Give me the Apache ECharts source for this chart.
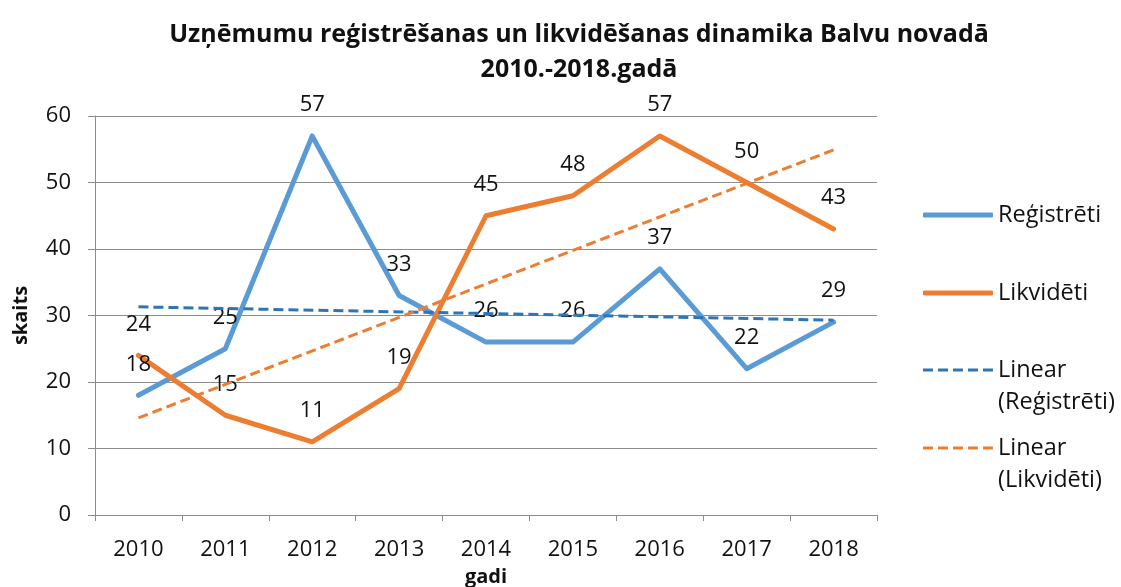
<!DOCTYPE html>
<html><head><meta charset="utf-8">
<script src="https://cdn.jsdelivr.net/npm/echarts@6/dist/echarts.min.js"></script>
<style>html,body{margin:0;padding:0;background:#fff}#c{width:1121px;height:587px}</style>
</head><body><div id="c"></div>
<script>
const years = ['2010','2011','2012','2013','2014','2015','2016','2017','2018'];
const registreti = [18, 25, 57, 33, 26, 26, 37, 22, 29];
const likvideti = [24, 15, 11, 19, 45, 48, 57, 50, 43];
// trend line end values (2010 and 2018)
const trendRegistreti = [31.3, 29.3];
const trendLikvideti = [14.6, 54.9];
const yTicks = [0, 10, 20, 30, 40, 50, 60];

const FONT = '"Open Sans", Lato, sans-serif';
const TXT = '#111';
function trendData(ends){ return years.map((y,i)=> i===0 ? ends[0] : (i===years.length-1 ? ends[1] : null)); }

const DASH_ICON = 'path://M0,0h10v3h-10z M15,0h10v3h-10z M30,0h10v3h-10z M45,0h10v3h-10z M60,0h10v3h-10z';

const chart = echarts.init(document.getElementById('c'));
const labelCfg = {show:true, position:'top', distance:20, fontSize:22, color:TXT, fontFamily:FONT};
function legend(name, top, twoLine, color){
  return {
    data:[{name:name, icon: twoLine ? DASH_ICON : 'roundRect'}],
    left:923, top:top, orient:'vertical',
    itemWidth: 70, itemHeight: twoLine ? 3 : 5, padding:0,
    symbolKeepAspect:false,
    itemStyle:{color:color},
    formatter: n => twoLine ? ' \n' + n.replace(' (', '\n(') : n,
    textStyle:{fontSize:23.5, color:TXT, fontFamily:FONT, lineHeight:32}
  };
}
chart.setOption({
  animation:false,
  title:{text:'Uzņēmumu reģistrēšanas un likvidēšanas dinamika Balvu novadā\n2010.-2018.gadā',
    left:574, top:12, textAlign:'center',
    textStyle:{fontSize:25, fontWeight:'bold', color:TXT, fontFamily:FONT, lineHeight:35}},
  legend:[
    legend('Reģistrēti', 199, false, '#5B9BD5'),
    legend('Likvidēti', 277, false, '#ED7D31'),
    legend('Linear (Reģistrēti)', 322, true, '#2E75B6'),
    legend('Linear (Likvidēti)', 400, true, '#ED7D31')
  ],
  grid:{left:95, right:244, top:116, bottom:72, containLabel:false, outerBoundsMode:'none'},
  xAxis:{type:'category', data:years, boundaryGap:true,
    name:'gadi', nameLocation:'middle', nameGap:52,
    nameTextStyle:{fontSize:20, fontWeight:'bold', color:TXT, fontFamily:FONT},
    axisLine:{lineStyle:{color:'#8c8c8c', width:1}},
    axisTick:{show:true, length:6, alignWithLabel:false, lineStyle:{color:'#8c8c8c'}},
    axisLabel:{fontSize:22, color:TXT, fontFamily:FONT, margin:24}},
  yAxis:{type:'value', min:yTicks[0], max:yTicks[yTicks.length-1], interval:10,
    name:'skaits', nameLocation:'middle', nameGap:64, nameRotate:90,
    nameTextStyle:{fontSize:20, fontWeight:'bold', color:TXT, fontFamily:FONT},
    axisLine:{show:true, lineStyle:{color:'#8c8c8c', width:1}},
    axisTick:{show:true, length:7, lineStyle:{color:'#8c8c8c'}},
    axisLabel:{fontSize:22, color:TXT, fontFamily:FONT, margin:24},
    splitLine:{lineStyle:{color:'#8c8c8c', width:1}}},
  series:[
    {name:'Reģistrēti', type:'line', data:registreti, symbol:'circle', symbolSize:0, showSymbol:true,
      itemStyle:{color:'#5B9BD5'}, lineStyle:{color:'#5B9BD5', width:5, cap:'round', join:'round'},
      label:labelCfg, z:3},
    {name:'Likvidēti', type:'line', data:likvideti, symbol:'circle', symbolSize:0, showSymbol:true,
      itemStyle:{color:'#ED7D31'}, lineStyle:{color:'#ED7D31', width:5, cap:'round', join:'round'},
      label:labelCfg, z:3},
    {name:'Linear (Reģistrēti)', type:'line', data:trendData(trendRegistreti), connectNulls:true,
      symbol:'none', itemStyle:{color:'#2E75B6'}, lineStyle:{color:'#2E75B6', width:3, type:[10,5]}, z:4},
    {name:'Linear (Likvidēti)', type:'line', data:trendData(trendLikvideti), connectNulls:true,
      symbol:'none', itemStyle:{color:'#ED7D31'}, lineStyle:{color:'#ED7D31', width:3, type:[10,5]}, z:4}
  ]
});
</script></body></html>
